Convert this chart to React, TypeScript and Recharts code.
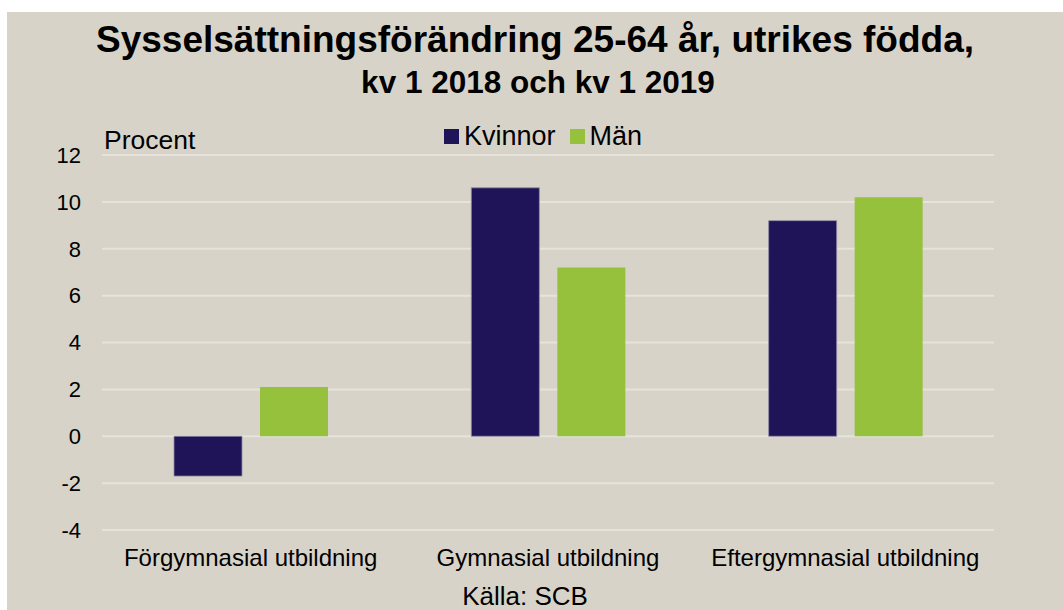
import React from 'react';
import { BarChart, Bar, XAxis, YAxis, CartesianGrid, Legend } from 'recharts';

const categories = ['Förgymnasial utbildning', 'Gymnasial utbildning', 'Eftergymnasial utbildning'];
const kvinnor = [-1.7, 10.6, 9.2];
const man = [2.1, 7.2, 10.2];
const yTicks = [-4, -2, 0, 2, 4, 6, 8, 10, 12];

const data = categories.map((c, i) => ({ name: c, Kvinnor: kvinnor[i], 'Män': man[i] }));

const FONT = '"Liberation Sans", Arial, sans-serif';
const BG = '#d8d3c8';

const renderLegend = (props: any) => {
  const { payload } = props;
  return (
    <div style={{ display: 'flex', alignItems: 'center', fontFamily: FONT, fontSize: 27, color: '#000', whiteSpace: 'nowrap' }}>
      {payload.map((p: any, i: number) => (
        <div key={i} style={{ display: 'flex', alignItems: 'center', marginRight: i === 0 ? 14 : 0 }}>
          <span style={{ display: 'inline-block', width: 15, height: 15, background: p.color, marginRight: 5 }} />
          <span>{p.value}</span>
        </div>
      ))}
    </div>
  );
};

export default function App() {
  return (
    <div style={{ position: 'absolute', left: 7, top: 12, width: 1056, height: 598, background: BG, fontFamily: FONT, overflow: 'hidden' }}>
      <div style={{ position: 'absolute', left: 0, width: 1056, top: 9, textAlign: 'center', fontSize: 37, lineHeight: '37px', fontWeight: 700, color: '#000' }}>
        <span style={{ position: 'relative', left: 0 }}>Sysselsättningsförändring 25-64 år, utrikes födda,</span>
      </div>
      <div style={{ position: 'absolute', left: 0, width: 1056, top: 55, textAlign: 'center', fontSize: 31.5, lineHeight: '31px', fontWeight: 700, color: '#000' }}>
        <span style={{ position: 'relative', left: 3 }}>kv 1 2018 och kv 1 2019</span>
      </div>
      <div style={{ position: 'absolute', left: 97, top: 115, fontSize: 26.5, lineHeight: '26px', color: '#000' }}>Procent</div>
      <div style={{ position: 'absolute', left: 0, width: 1056, top: 571, textAlign: 'center', fontSize: 26, lineHeight: '26px', color: '#000' }}>
        <span style={{ position: 'relative', left: -10 }}>Källa: SCB</span>
      </div>
      <div style={{ position: 'absolute', left: 0, top: 0 }}>
        <BarChart
          width={1056}
          height={598}
          data={data}
          margin={{ top: 143, right: 69, bottom: 40, left: 0 }}
          barCategoryGap={72}
          barGap={18}
        >
          <CartesianGrid vertical={false} stroke="#e6e3dd" strokeWidth={2} />
          <XAxis
            dataKey="name"
            axisLine={false}
            tickLine={false}
            tickSize={0}
            tickMargin={19}
            height={40}
            interval={0}
            tick={{ fill: '#000', fontSize: 24, fontFamily: FONT }}
          />
          <YAxis
            domain={[-4, 12]}
            ticks={yTicks}
            axisLine={false}
            tickLine={false}
            tickSize={0}
            tickMargin={21}
            width={95}
            interval={0}
            tick={{ fill: '#000', fontSize: 22, fontFamily: FONT }}
          />
          <Legend
            layout="horizontal"
            verticalAlign="middle"
            align="center"
            content={renderLegend}
            wrapperStyle={{ position: 'absolute', left: 437, top: 109, width: 'auto', height: 'auto' }}
          />
          <Bar dataKey="Kvinnor" fill="#1f1457" stroke="#8f8aa6" strokeWidth={0.8} isAnimationActive={false} />
          <Bar dataKey="Män" fill="#95c13d" isAnimationActive={false} />
        </BarChart>
      </div>
    </div>
  );
}
